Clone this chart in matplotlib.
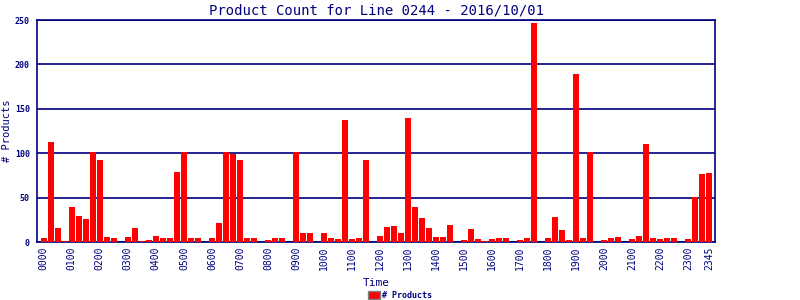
import matplotlib
matplotlib.use("Agg")
import matplotlib.pyplot as plt
import numpy as np

# product counts per 15 minute slot, 0000 .. 2345
counts = [5, 113, 16, 1, 39, 29, 26, 101, 93, 6, 5, 0,
          6, 16, 1, 2, 7, 5, 5, 79, 102, 5, 5, 0,
          5, 21, 102, 99, 93, 5, 5, 0, 2, 5, 5, 0,
          102, 10, 10, 0, 10, 5, 3, 137, 3, 5, 92, 0,
          7, 17, 18, 10, 140, 40, 27, 16, 6, 6, 19, 0,
          2, 15, 3, 1, 3, 5, 5, 0, 2, 5, 247, 0,
          5, 28, 14, 2, 189, 5, 102, 0, 2, 5, 6, 0,
          3, 7, 111, 5, 3, 5, 5, 0, 3, 51, 77, 78]
times = ["%02d%02d" % (h, m) for h in range(24) for m in (0, 15, 30, 45)]
tick_labels = ["%02d00" % h for h in range(24)] + ["2345"]
y_ticks = [0, 50, 100, 150, 200, 250]

navy = "#000080"
plt.rcParams['font.family'] = ['DejaVu Sans Mono']

fig = plt.figure(figsize=(8, 3), dpi=100)
ax = fig.add_axes([0.046, 0.193, 0.848, 0.74])

x = np.arange(len(counts))
ax.bar(x, counts, width=0.86, color="#ff0000", zorder=3, label="# Products")

ax.set_xlim(-1, 95.86)
ax.set_ylim(0, 250)
ax.set_yticks(y_ticks)
ax.yaxis.grid(True, color=navy, linewidth=1.2, zorder=0)

tick_pos = [times.index(t) for t in tick_labels]
ax.set_xticks(tick_pos)
ax.set_xticklabels(tick_labels, rotation=90)
ax.tick_params(axis='x', length=0, pad=3, labelsize=7, colors=navy)
ax.tick_params(axis='y', length=0, pad=5, labelsize=6, colors=navy)
for t in ax.get_yticklabels():
    t.set_fontweight("bold")

for s in ax.spines.values():
    s.set_color(navy)
    s.set_linewidth(1.2)

ax.set_title("Product Count for Line 0244 - 2016/10/01", color=navy, fontsize=10, pad=4)
ax.set_ylabel("# Products", color=navy, fontsize=7.5)
ax.yaxis.set_label_coords(-0.036, 0.5)
ax.set_xlabel("Time", color=navy, fontsize=8, labelpad=6)

leg = fig.legend(loc="lower center", bbox_to_anchor=(0.5, -0.025), frameon=False,
                 fontsize=6, handlelength=1.4, handleheight=1.0, handletextpad=0.3)
for t in leg.get_texts():
    t.set_color(navy)
    t.set_fontweight("bold")
for p in leg.get_patches():
    p.set_edgecolor("#808080")

fig.savefig("out.png", dpi=100)
